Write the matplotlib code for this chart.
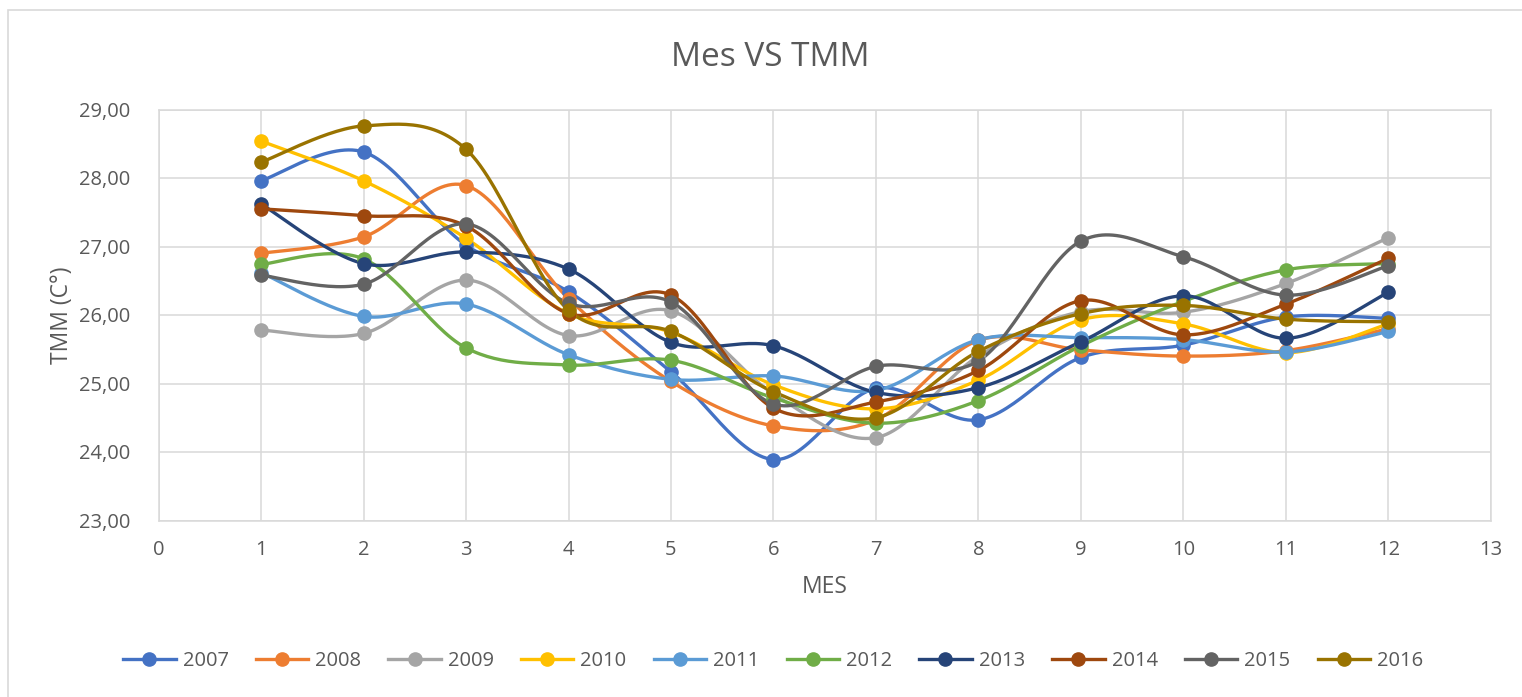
import matplotlib.pyplot as plt
import numpy as np
from matplotlib.patches import Rectangle

# Monthly mean temperature (TMM) per year
months = np.arange(1, 13)
years = ['2007', '2008', '2009', '2010', '2011', '2012', '2013', '2014', '2015', '2016']

tmm_2007 = [27.96, 28.38, 27.02, 26.34, 25.17, 23.89, 24.93, 24.47, 25.38, 25.56, 25.97, 25.95]
tmm_2008 = [26.90, 27.14, 27.89, 26.24, 25.03, 24.38, 24.47, 25.63, 25.49, 25.40, 25.48, 25.80]
tmm_2009 = [25.78, 25.73, 26.51, 25.70, 26.06, 24.85, 24.21, 25.40, 26.05, 26.04, 26.46, 27.13]
tmm_2010 = [28.54, 27.96, 27.12, 26.02, 25.75, 24.98, 24.63, 25.05, 25.93, 25.87, 25.45, 25.87]
tmm_2011 = [26.62, 25.98, 26.16, 25.42, 25.06, 25.11, 24.90, 25.64, 25.67, 25.64, 25.46, 25.76]
tmm_2012 = [26.74, 26.82, 25.52, 25.27, 25.34, 24.79, 24.42, 24.75, 25.55, 26.20, 26.66, 26.75]
tmm_2013 = [27.62, 26.75, 26.92, 26.67, 25.60, 25.55, 24.87, 24.94, 25.61, 26.28, 25.66, 26.33]
tmm_2014 = [27.55, 27.45, 27.30, 26.02, 26.29, 24.64, 24.73, 25.19, 26.21, 25.71, 26.16, 26.83]
tmm_2015 = [26.58, 26.45, 27.33, 26.17, 26.19, 24.70, 25.25, 25.33, 27.08, 26.85, 26.29, 26.72]
tmm_2016 = [28.23, 28.76, 28.42, 26.07, 25.76, 24.88, 24.50, 25.47, 26.02, 26.14, 25.94, 25.90]

series = [tmm_2007, tmm_2008, tmm_2009, tmm_2010, tmm_2011,
          tmm_2012, tmm_2013, tmm_2014, tmm_2015, tmm_2016]
colors = ['#4472C4', '#ED7D31', '#A5A5A5', '#FFC000', '#5B9BD5',
          '#70AD47', '#264478', '#9E480E', '#636363', '#997300']


def smooth(x, y, n=30):
    # Excel-style smoothed line: cubic Bezier with Catmull-Rom control points
    x = np.asarray(x, float)
    y = np.asarray(y, float)
    px = np.concatenate([[x[0]], x, [x[-1]]])
    py = np.concatenate([[y[0]], y, [y[-1]]])
    t = np.linspace(0, 1, n)
    xs, ys = [], []
    for i in range(len(x) - 1):
        p0x, p1x, p2x, p3x = px[i], px[i + 1], px[i + 2], px[i + 3]
        p0y, p1y, p2y, p3y = py[i], py[i + 1], py[i + 2], py[i + 3]
        c1x = p1x + (p2x - p0x) / 6
        c1y = p1y + (p2y - p0y) / 6
        c2x = p2x - (p3x - p1x) / 6
        c2y = p2y - (p3y - p1y) / 6
        b = [(1 - t) ** 3, 3 * (1 - t) ** 2 * t, 3 * (1 - t) * t ** 2, t ** 3]
        xs.append(b[0] * p1x + b[1] * c1x + b[2] * c2x + b[3] * p2x)
        ys.append(b[0] * p1y + b[1] * c1y + b[2] * c2y + b[3] * p2y)
    return np.concatenate(xs), np.concatenate(ys)


plt.rcParams['font.family'] = ['Open Sans', 'DejaVu Sans']
text_color = '#595959'
grid_color = '#D9D9D9'

fig = plt.figure(figsize=(15.22, 6.97), dpi=100)
fig.patch.set_facecolor('white')
ax = fig.add_axes([158.5 / 1522, 1 - 520.5 / 697, (1491 - 158.5) / 1522, (520.5 - 109.5) / 697])

# chart border
fig.patches.append(Rectangle((8 / 1522, -0.05), 1.1, 1 - 10 / 697 + 0.05,
                             transform=fig.transFigure, fill=False,
                             edgecolor=grid_color, linewidth=1.2))

for year, vals, c in zip(years, series, colors):
    sx, sy = smooth(months, vals)
    ax.plot(sx, sy, color=c, linewidth=2.4, solid_capstyle='round', zorder=2)
    ax.plot(months, vals, linestyle='none', marker='o', markersize=9.5,
            color=c, zorder=3)
    # legend proxy
    ax.plot([], [], color=c, linewidth=2.4, marker='o', markersize=9.5, label=year)

ax.set_xlim(0, 13)
ax.set_ylim(23, 29)
ax.set_xticks(np.arange(0, 14, 1))
ax.set_yticks(np.arange(23, 30, 1))
ax.set_yticklabels([f'{v:.2f}'.replace('.', ',') for v in np.arange(23, 30, 1)])
ax.grid(True, color=grid_color, linewidth=1.1)
ax.set_axisbelow(True)
for s in ax.spines.values():
    s.set_color(grid_color)
    s.set_linewidth(1.1)
ax.tick_params(length=0, labelsize=14.5, colors=text_color, pad=14)
ax.tick_params(axis='y', pad=20)

ax.set_xlabel('MES', fontsize=16.5, color=text_color, labelpad=11)
ax.set_ylabel('TMM (C°)', fontsize=16.5, color=text_color, labelpad=4)
fig.text(0.506, 1 - 57 / 697, 'Mes VS TMM', ha='center', va='center',
         fontsize=24, color=text_color)

fig.legend(loc='center', bbox_to_anchor=(0.508, 1 - 661 / 697), ncol=10,
           frameon=False, fontsize=14.5, handlelength=2.6, handletextpad=0.35,
           columnspacing=1.35, labelcolor=text_color)

fig.savefig('out.png', dpi=100, facecolor='white')
